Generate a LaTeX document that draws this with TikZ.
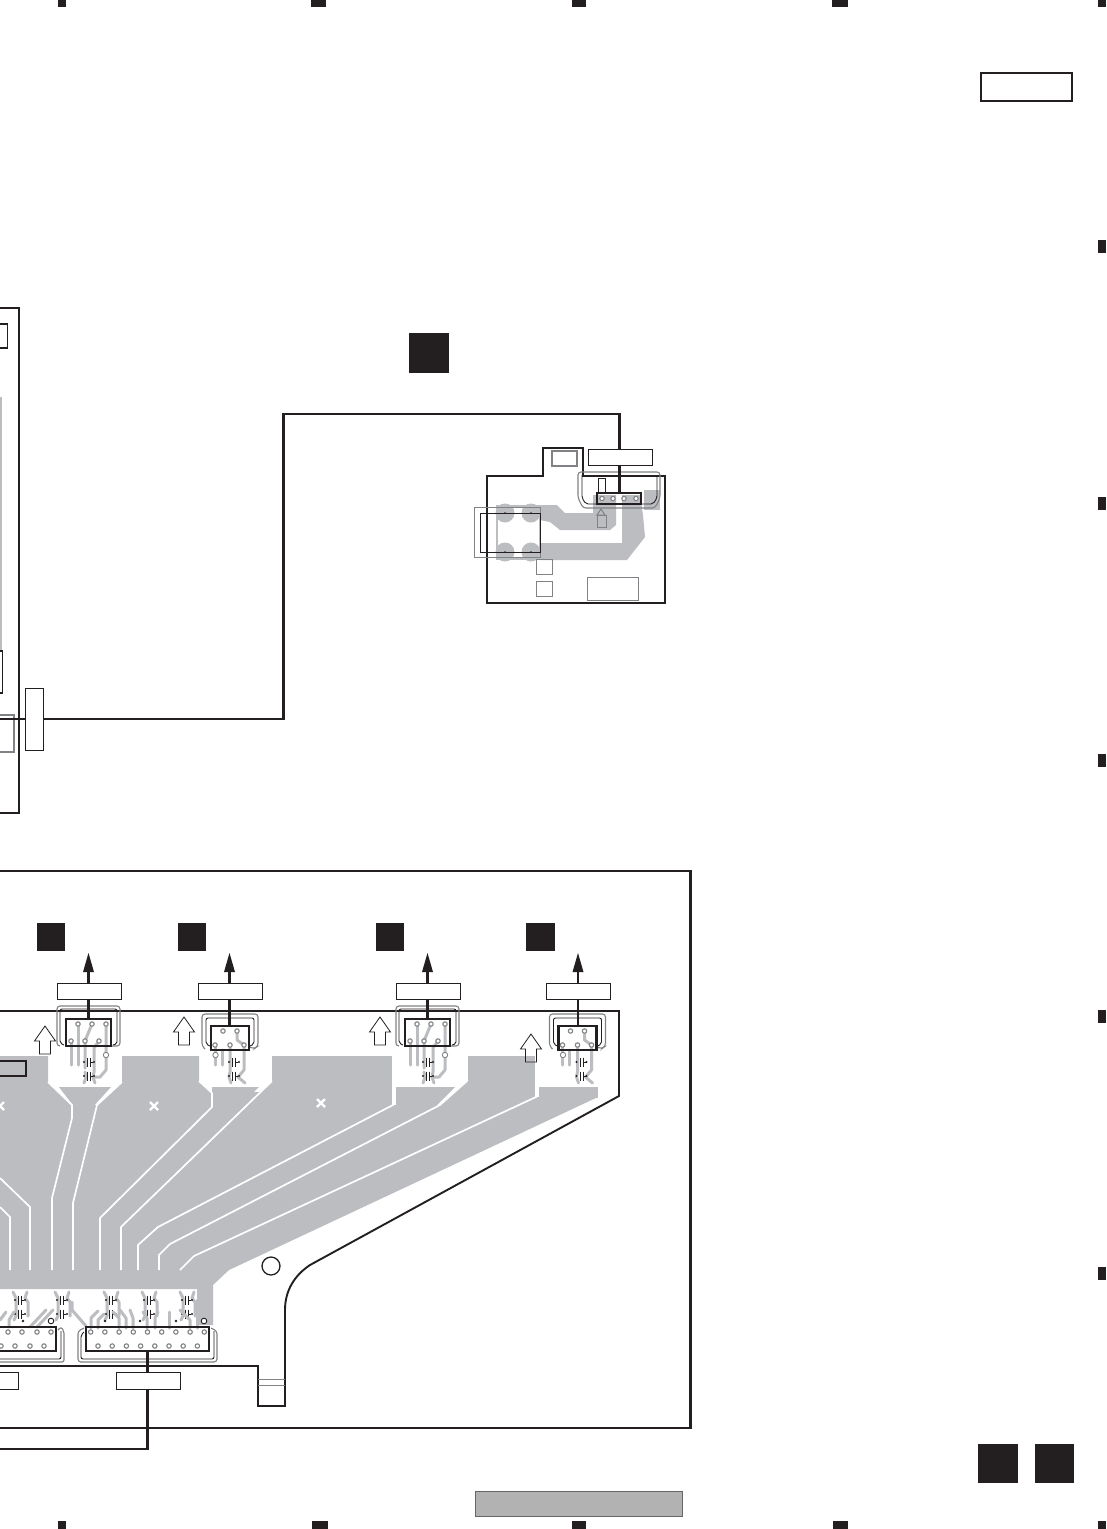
\documentclass[tikz,border=0pt]{standalone}
\definecolor{ink}{HTML}{231F20}
\definecolor{cu}{HTML}{BBBDC0}
\definecolor{edge}{HTML}{808285}
\definecolor{ring}{HTML}{808285}
\definecolor{barfill}{HTML}{B2B2B2}
\definecolor{barline}{HTML}{666666}
\tikzset{
  x=1pt,y=-1pt,
  board/.style={draw=ink,line width=1.9pt,line join=miter},
  frameline/.style={draw=ink,line width=2.8pt,line join=miter},
  cable/.style={draw=ink,line width=2.7pt,line join=miter},
  label box/.style={draw=ink,fill=white,line width=1pt},
  solid square/.style={fill=ink},
  conn/.style={draw=ink,line width=2.6pt},
  track/.style={draw=white,line width=1.7pt,line join=miter},
  trace/.style={draw=cu,line width=3pt,line cap=round,line join=round},
  housing/.style={draw=edge,line width=1.1pt,rounded corners=3pt},
  housingin/.style={draw=ink,line width=.9pt,rounded corners=2pt},
  thin part/.style={draw=ink,line width=1pt},
  pad/.style={draw=ring,fill=white,line width=1.1pt},
  hole/.style={draw=ink,line width=.9pt,fill=white},
}
\newcommand{\padat}[2]{\draw[pad] (#1,#2) circle (2.2pt);}
\newcommand{\capat}[2]{%
  \fill[ink] (#1-5,#2) circle (1.2pt) (#1+5,#2) circle (1.2pt);
  \draw[ink,line width=.7pt] (#1-1.2,#2-4.5) -- (#1-1.2,#2+4.5) (#1+1.4,#2-4.5) -- (#1+1.4,#2+4.5)
    (#1+1.4,#2) -- (#1+4,#2);}
\newcommand{\tallconn}[1]{%
  \begin{scope}[xshift=#1pt]
  \draw[trace] (71,1041) -- (71,1065);
  \draw[trace] (78,1024) -- (78,1065);
  \draw[trace] (92,1024) -- (85,1041) -- (85,1068);
  \draw[trace] (85,1072) -- (86,1077) -- (84,1083);
  \draw[trace] (99,1041) -- (94,1048) -- (94,1072) -- (93,1077) -- (95,1083);
  \draw[trace] (106,1024) -- (106,1070) -- (100,1077) -- (95,1077);
  \draw[housing] (60,1046) -- (57,1046) -- (57,1006) -- (120,1006) -- (120,1046) -- (112,1046);
  \draw[housingin] (64,1045) -- (60,1043) -- (60,1009) -- (117,1009) -- (117,1044) -- (113,1045);
  \draw[conn,fill=none] (66,1019) rectangle (111,1046);
  \foreach \p in {78,92,106} {\padat{\p}{1024}}
  \foreach \p in {71,85,99} {\padat{\p}{1041}}
  \draw[hole,draw=ring] (106,1055) circle (2.7pt);
  \capat{89}{1062}\capat{89}{1076}
  \end{scope}}
\newcommand{\wideconn}[1]{%
  \begin{scope}[xshift=#1pt]
  \draw[trace] (215,1045) -- (215,1065);
  \draw[trace] (222,1050) -- (222,1065);
  \draw[trace] (237,1031) -- (237,1040) -- (244,1045) -- (244,1070) -- (238,1077);
  \draw[trace] (230,1045) -- (230,1072) -- (229,1077) -- (231,1083);
  \draw[trace] (238,1077) -- (245,1083);
  \draw[housing] (205,1049) -- (202,1046) -- (202,1014) -- (258,1014) -- (258,1046) -- (254,1049) -- (250,1047);
  \draw[housingin] (210,1046) -- (206,1044) -- (206,1018) -- (254,1018) -- (254,1044) -- (250,1046);
  \draw[conn,fill=none] (211,1026) rectangle (249,1050);
  \foreach \p in {223,237} {\padat{\p}{1031}}
  \foreach \p in {215,230,244} {\padat{\p}{1045}}
  \draw[hole,draw=ring] (215.5,1055) circle (2.7pt);
  \capat{234}{1062}\capat{234}{1076}
  \end{scope}}
\newcommand{\uparr}[2]{%
  \draw[ink,line width=.8pt,line join=miter] (#1,#2) -- (#1+10.5,#2+15) -- (#1+5.5,#2+15) -- (#1+5.5,#2+28)
    -- (#1-5.5,#2+28) -- (#1-5.5,#2+15) -- (#1-10.5,#2+15) -- cycle;}
\newcommand{\lowcaps}[1]{%
  \draw[trace] (#1-7,1292) -- (#1-4,1298) -- (#1-4,1316) -- (#1-6,1320);
  \draw[trace] (#1+7,1292) -- (#1+5,1298) -- (#1+8,1302) -- (#1+8,1316);
  \capat{#1}{1300}\capat{#1}{1314}}
\begin{document}
\begin{tikzpicture}
\useasboundingbox (0,0) rectangle (1106,1529);
\fill[white] (0,0) rectangle (1106,1529);
% registration marks
\foreach \a/\b in {58/66,311/326,572/586,832/848} {\fill[ink] (\a,0) rectangle (\b,7);}
\fill[ink] (1098,0) rectangle (1106,7);
\foreach \a/\b in {58/66,312/328,572/586,833/848,1098/1106} {\fill[ink] (\a,1521) rectangle (\b,1529);}
\foreach \a in {240,497,754,1010,1267} {\fill[ink] (1098,\a) rectangle (1106,\a+13);}
% title boxes
\node[label box,inner sep=0,minimum width=91pt,minimum height=28pt,line width=1.6pt] (titlebox) at (1026.5,87) {};
\node[solid square,inner sep=0,minimum size=40pt] (sqA) at (429,353) {};
\node[solid square,inner sep=0,minimum width=40pt,minimum height=39pt] (sqB) at (998,1463.5) {};
\node[solid square,inner sep=0,minimum width=39pt,minimum height=39pt] (sqC) at (1054.5,1463.5) {};
\draw[draw=barline,fill=barfill,line width=1pt] (475,1491.5) rectangle (682,1516);
% left partial panel
\draw[frameline,line width=1.9pt] (0,308) -- (19,308) -- (19,813) -- (0,813);
\draw[thin part,line width=1.1pt] (0,324) -- (7.5,324) -- (7.5,348) -- (0,348);
\draw[cu,line width=1.2pt] (1,397) -- (1,650);
\draw[thin part,line width=1.1pt] (0,651) -- (2.5,651) -- (2.5,693) -- (0,693);
\draw[edge,line width=1.1pt] (0,715) -- (14,715) -- (14,752) -- (0,752);
% upper small board copper
\fill[cu] (505,513) circle (9.5pt) (531,513) circle (9.5pt) (505,552) circle (9.5pt) (531,552) circle (9.5pt);
\fill[cu] (540,505) -- (557,505) -- (565,513) -- (593,513) -- (593,495) -- (616,495) -- (616,525) -- (610,530) -- (560,530) -- (550,522) -- (540,520) -- cycle;
\fill[cu] (540,543) -- (622,543) -- (622,495) -- (640,495) -- (643,515) -- (645,537) -- (627,560) -- (540,560) -- cycle;
\fill[cu] (644,490) -- (660,490) -- (660,510) -- (644,510) -- cycle;
\draw[cu,line width=1.1pt] (497,506) rectangle (540,559);
% upper small board outline
\draw[board] (487,476) -- (543,476) -- (543,448) -- (583,448) -- (583,476) -- (665,476) -- (665,603) -- (487,603) -- cycle;
\draw[thin part,draw=ring] (474,507.5) rectangle (540,557);
\draw[thin part] (480.5,513) rectangle (540,552.5);
\draw[thin part,draw=ring] (536,559) rectangle (552,574);
\draw[thin part,draw=ring] (536,581) rectangle (552,596);
\draw[thin part,draw=ring] (587,577) rectangle (638,600.5);
\draw[thin part,draw=ring,line width=1.8pt] (552,451) rectangle (577,466);
% small-board connector
\draw[housing] (578,472) -- (660,472) -- (660,498) -- (655,508) -- (583,508) -- (578,498) -- cycle;
\draw[housingin] (582,475) -- (582,498) -- (586,504) -- (653,504) -- (657,498) -- (657,475);
\draw[thin part,fill=white] (598.5,478) rectangle (605.5,493);
\draw[thin part,draw=ring] (601,509) -- (605,515) -- (597,515) -- cycle;
\draw[thin part,draw=ring,fill=cu] (597,515.5) rectangle (606,527);
\node[label box,inner sep=0,minimum width=64pt,minimum height=16pt] (boxE) at (620,457) {};
\node[conn,inner sep=0,minimum width=44pt,minimum height=11pt] (connE) at (619,498.5) {};
\foreach \p in {602,613,624,636} {\padat{\p}{498.5}}
\foreach \a/\b in {505/513,531/513,505/552,531/552} {\fill[ink] (\a,\b) circle (1pt);}
% bottom frame
\draw[frameline] (0,871) -- (690.5,871) -- (690.5,1428) -- (0,1428);
% flex copper
\fill[cu] (0,1056) -- (48,1056) -- (48,1082) -- (72,1105) -- (97,1105) -- (122,1082) -- (122,1056) -- (199,1056) -- (199,1082) -- (212,1092) -- (259,1092) -- (272,1082) -- (272,1056) -- (393,1056) -- (393,1105) -- (440,1105) -- (467,1081) -- (467,1056) -- (536,1056) -- (536,1097) -- (598,1097) -- (229,1270) -- (213,1285) -- (213,1325) -- (197,1325) -- (197,1289) -- (0,1289) -- cycle;
\fill[cu] (59,1087) -- (111,1087) -- (92,1108) -- (75,1108) -- cycle;
\fill[cu] (212,1087) -- (259,1087) -- (225,1120) -- (212,1110) -- cycle;
\fill[cu] (396,1087) -- (455,1087) -- (437,1105) -- (396,1105) -- cycle;
\fill[cu] (539,1087) -- (598,1087) -- (598,1098) -- (539,1098) -- cycle;
% tracks
\draw[track] (48,1082) -- (72,1105) -- (72,1118) -- (52,1198) -- (52,1270);
\draw[track] (122,1082) -- (97,1105) -- (73,1203) -- (73,1270);
\draw[track] (199,1081) -- (212,1093) -- (212,1107) -- (100,1218) -- (100,1270);
\draw[track] (272,1081) -- (121,1227) -- (121,1270);
\draw[track] (393,1056) -- (393,1105) -- (158,1227) -- (138,1245) -- (138,1270);
\draw[track] (467,1056) -- (467,1081) -- (440,1105) -- (170,1244) -- (159,1255) -- (159,1270);
\draw[track] (536,1056) -- (536,1097) -- (194,1256) -- (180,1270);
\draw[track] (0,1178) -- (30,1207) -- (30,1270);
\draw[track] (0,1207) -- (10,1217) -- (10,1270);
\foreach \a/\b in {154/1106,321/1103,0/1106} {\draw[white,line width=2.2pt] (\a-4,\b-4) -- (\a+4,\b+4) (\a-4,\b+4) -- (\a+4,\b-4);}
\draw[ink,fill=cu,line width=1.2pt] (-2,1061) rectangle (26,1076);
% board outline
\draw[board] (0,1011) -- (619,1011) -- (619,1096) -- (310,1265) .. controls (295,1275) and (285,1290) .. (285,1310) -- (285,1406) -- (258,1406) -- (258,1366) -- (0,1366);
\draw[edge,line width=.9pt] (258,1379) -- (285,1379) (258,1385) -- (285,1385);
\draw[thin part,line width=1.3pt] (271,1266) circle (9pt);
% top connectors
\tallconn{0}
\tallconn{339}
\wideconn{0}
\wideconn{347.5}
\uparr{45}{1026}\uparr{184}{1017}\uparr{380}{1017}\uparr{531}{1034}
\foreach \n/\x/\s in {a/88.5/51,b/229.5/192,c/427.5/390,d/578/540.5} {
  \node[label box,inner sep=0,minimum width=64pt,minimum height=16pt] (box\n) at (\x+.5,991) {};
  \node[solid square,inner sep=0,minimum width=28.5pt,minimum height=28pt] (sq\n) at (\s,937) {};
  \coordinate (tip\n) at (\x,953);
  \fill[ink] (tip\n) -- (\x+5.5,972) -- (\x-5.5,972) -- cycle;
  \draw[cable] (\x,972) -- (\x,983);
}
\draw[cable] (88.5,999) -- (88.5,1019);
\draw[cable] (229.5,999) -- (229.5,1026);
\draw[cable] (427.5,999) -- (427.5,1019);
\draw[cable] (578,999) -- (578,1026);
% bottom connectors
\foreach \p in {20,62,111,149,187} {\lowcaps{\p}}
\draw[trace] (0,1320) -- (6,1312);
\draw[trace] (9,1327) -- (9,1320) -- (14,1312);
\draw[trace] (30,1327) -- (46,1310);
\draw[trace] (37,1327) -- (53,1310);
\draw[trace] (72,1302) -- (72,1310) -- (86,1326);
\draw[trace] (91,1328) -- (91,1318) -- (98,1311);
\draw[trace] (98,1328) -- (98,1320) -- (104,1314);
\draw[trace] (119,1328) -- (119,1318) -- (113,1312);
\draw[trace] (126,1328) -- (126,1318) -- (120,1310);
\draw[trace] (133,1328) -- (133,1318) -- (130,1310);
\draw[trace] (147,1328) -- (147,1318) -- (143,1312);
\draw[trace] (155,1328) -- (155,1318) -- (158,1312);
\draw[trace] (169,1328) -- (169,1312);
\draw[trace] (190,1328) -- (190,1320) -- (180,1310);
\draw[trace] (197,1328) -- (197,1300);
\draw[housingin,draw=edge,line width=1.1pt] (58,1330) -- (61,1327) -- (64,1331) -- (64,1362) -- (0,1362);
\draw[housingin] (0,1359) -- (61,1359) -- (61,1331);
\draw[housing] (84,1328) -- (78,1331) -- (78,1362) -- (217,1362) -- (217,1331) -- (211,1328);
\draw[housingin] (84,1332) -- (81,1335) -- (81,1359) -- (214,1359) -- (214,1331);
\draw[conn] (0,1327) -- (56,1327) -- (56,1351) -- (0,1351);
\draw[conn] (86,1327) rectangle (209,1351);
\foreach \p in {8,22,37,51} {\padat{\p}{1332}}
\foreach \p in {1,15,30,44} {\padat{\p}{1346}}
\foreach \i in {0,...,8} {\padat{90.7+14.2*\i}{1332}}
\foreach \i in {0,...,7} {\padat{98+14.2*\i}{1346}}
\draw[hole] (51,1321) circle (2.8pt) (204,1321) circle (2.8pt);
\foreach \p in {23,105,140,176} {\fill[ink] (\p,1321) circle (1.4pt);}
% lower labels and cable
\node[label box,inner sep=0,minimum width=64pt,minimum height=17pt] (boxF) at (148,1380.5) {};
\node[label box,inner sep=0,minimum width=20pt,minimum height=17pt] (boxG) at (8,1380.5) {};
\coordinate (cableend) at (0,1449);
\draw[cable] (147.5,1351) -- (147.5,1372) (147.5,1389) -- (147.5,1449) -- (cableend);
% long cable
\coordinate (leftend) at (0,719);
\node[label box,inner sep=0,minimum width=18pt,minimum height=62pt] (boxH) at (34,719) {};
\coordinate (c1) at (283.5,719);
\coordinate (c2) at (283.5,414);
\coordinate (c3) at (619.5,414);
\draw[cable] (leftend) -- (boxH.west) (boxH.east) -- (c1) -- (c2) -- (c3) -- (619.5,449);
\draw[cable] (619.5,465) -- (619.5,493);
\end{tikzpicture}
\end{document}
